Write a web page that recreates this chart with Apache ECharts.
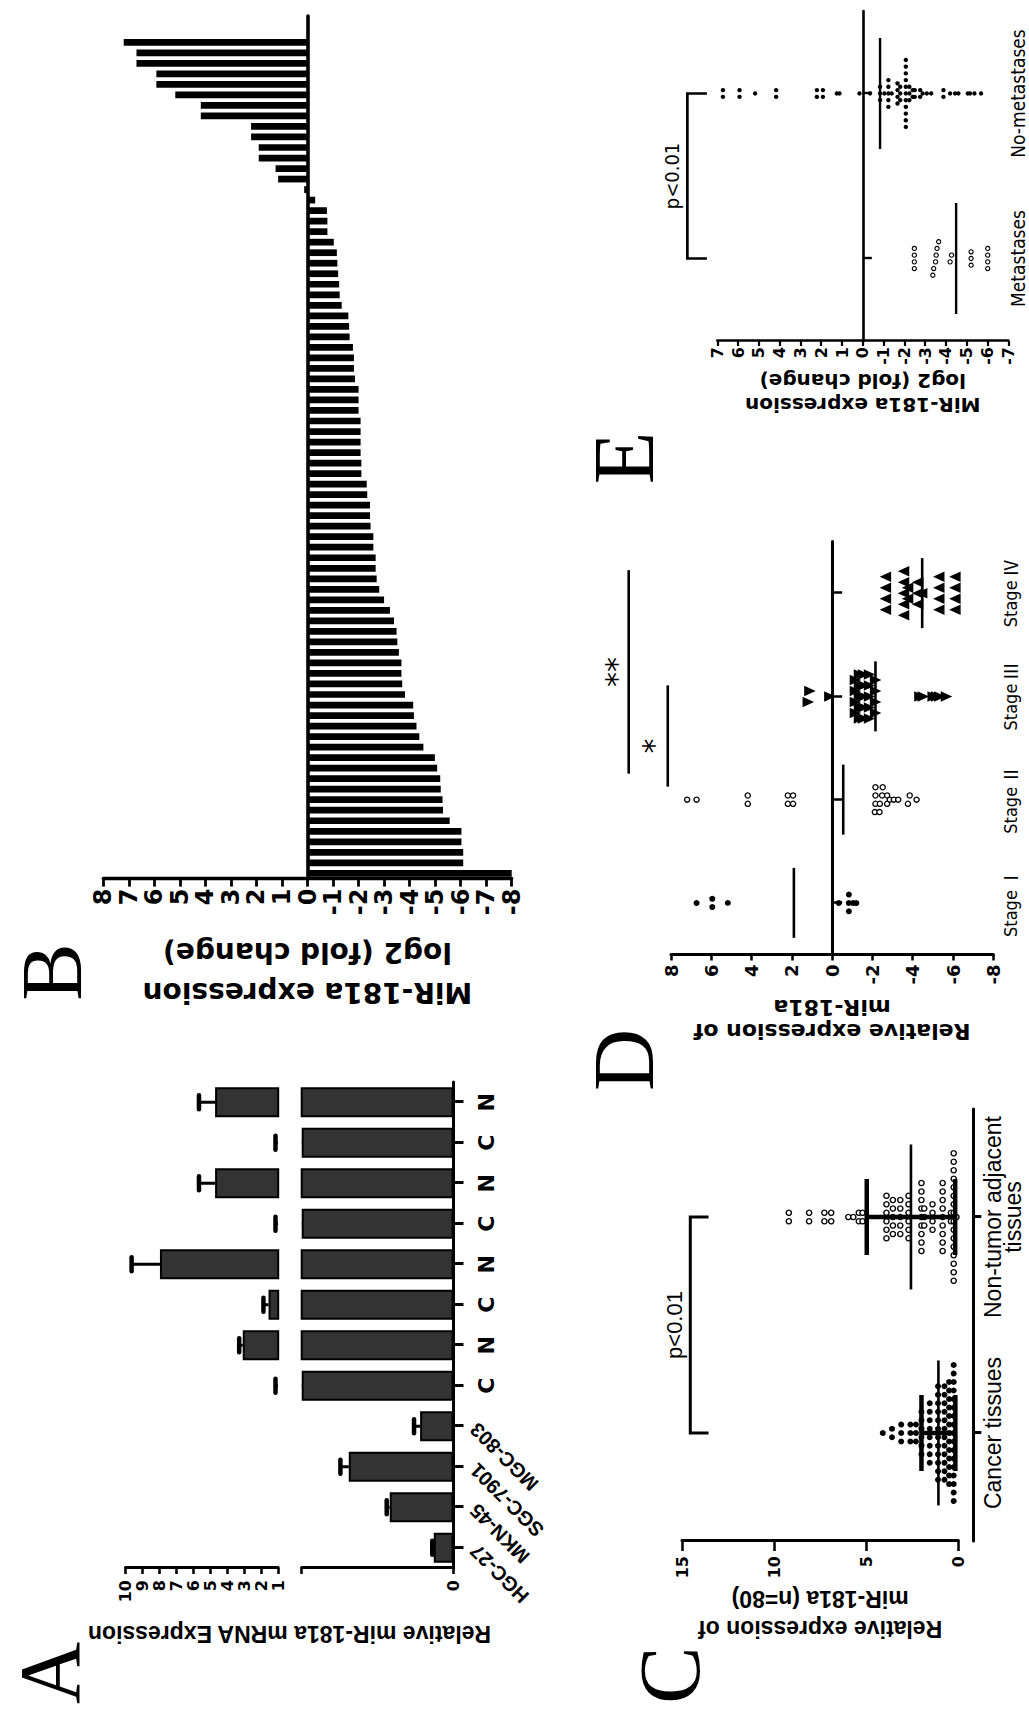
<!DOCTYPE html>
<html>
<head>
<meta charset="utf-8">
<title>miR-181a expression figure</title>
<script src="https://cdn.jsdelivr.net/npm/echarts/dist/echarts.min.js"></script>
<style>
  html, body { margin:0; padding:0; background:#fff; width:1029px; height:1717px; overflow:hidden; }
  #fig { position:absolute; left:0; top:0; width:1717px; height:1029px; background:#fff;
         transform-origin:0 0; transform:translate(0px,1717px) rotate(-90deg); }
</style>
</head>
<body>
<div id="fig"></div>
<script>
// ================= DATA =================
// Panel A
const aCategories = ['HGC-27','MKN-45','SGC-7901','MGC-803','C','N','C','N','C','N','C','N'];
const aValues = [0.13, 0.42, 0.69, 0.22, 1.0, 3.09, 1.57, 7.97, 1.0, 4.72, 1.0, 4.72];
const aErrors = [0.01, 0.02, 0.055, 0.04, 0.16, 0.21, 0.30, 1.67, 0.16, 0.95, 0.16, 0.95];
const aAxisName = 'Relative miR-181a mRNA Expression';

// Panel B (80 tissue samples, sorted)
const bSamples = Array.from({length: 80}, (_, i) => 'S' + (i + 1));
const bValues = [-8.0, -6.1, -6.1, -6.03, -6.03, -5.57, -5.31, -5.29, -5.22, -5.2,
  -5.08, -4.99, -4.54, -4.38, -4.27, -4.17, -4.14, -3.82, -3.71, -3.68,
  -3.68, -3.58, -3.52, -3.49, -3.39, -3.23, -3.0, -2.81, -2.71, -2.67,
  -2.67, -2.58, -2.58, -2.47, -2.45, -2.45, -2.34, -2.32, -2.11, -2.11,
  -2.08, -2.08, -2.08, -2.08, -2.0, -2.0, -2.0, -1.86, -1.82, -1.82,
  -1.78, -1.65, -1.63, -1.6, -1.34, -1.26, -1.24, -1.2, -1.17, -1.15,
  -1.03, -0.78, -0.78, -0.76, -0.3, 0.13, 1.15, 1.25, 1.91, 1.91,
  2.21, 2.21, 4.18, 4.18, 5.18, 5.92, 5.92, 6.7, 6.7, 7.2];
const bAxisName = 'MiR-181a expression\nlog2 (fold change)';

// Panel C
const cCategories = ['Cancer tissues', 'Non-tumor adjacent\ntissues'];
const cCancer = [4.1, 3.6, 3.6, 3.1, 3.1, 3.1, 2.6, 2.6, 2.6, 2.3, 2.3, 2.3,
  2.0, 2.0, 2.0, 2.0, 2.0, 2.0,
  1.55, 1.55, 1.55, 1.55, 1.55, 1.55, 1.55, 1.55,
  1.1, 1.1, 1.1, 1.1, 1.1, 1.1, 1.1, 1.1, 1.1, 1.1, 1.1, 1.1,
  0.75, 0.75, 0.75, 0.75, 0.75, 0.75, 0.75, 0.75, 0.75, 0.75, 0.75, 0.75,
  0.5, 0.5, 0.5, 0.5, 0.5, 0.5, 0.5, 0.5, 0.5, 0.5, 0.5, 0.5, 0.5,
  0.25, 0.25, 0.25, 0.25, 0.25, 0.25, 0.25, 0.25, 0.25, 0.25, 0.25, 0.25, 0.25, 0.25, 0.25, 0.25, 0.25];
const cNonTumor = [9.2, 9.2, 8.1, 8.1, 7.27, 7.27, 6.9, 6.9, 5.97, 5.7, 5.4, 5.4, 5.2, 5.2,
  3.9, 3.9, 3.9, 3.9, 3.9, 3.9, 3.55, 3.55, 3.55, 3.55, 3.55,
  3.15, 3.15, 3.15, 3.15, 3.15, 2.7, 2.7, 2.7, 2.7, 2.7, 2.7,
  2.0, 2.0, 2.0, 2.0, 2.0, 2.0, 2.0, 2.0, 2.0, 1.85, 1.85, 1.85,
  1.4, 1.4, 1.4, 1.4, 0.85, 0.85, 0.85, 0.85, 0.85, 0.85, 0.85, 0.85, 0.85,
  0.4, 0.4, 0.25, 0.25, 0.25, 0.25, 0.25, 0.25, 0.25, 0.25, 0.25, 0.25, 0.25, 0.25, 0.25, 0.25, 0.25, 0.25, 0.1];
const cMean = [1.08, 2.57];
const cSdLow = [0.16, 0.17];
const cSdHigh = [2.0, 4.97];
const cBracket = [14.55, 13.56];
const cPText = 'p<0.01';
const cAxisName = 'Relative expression of\nmiR-181a (n=80)';

// Panel D
const dCategories = ['Stage Ⅰ', 'Stage Ⅱ', 'Stage Ⅲ', 'Stage Ⅳ'];
const dStage1 = [6.73, 5.95, 5.95, 5.18, -0.33, -0.83, -0.83, -0.83, -1.04, -1.2];
const dStage2 = [7.2, 6.73, 4.19, 4.19, 2.2, 2.2, 1.94, 1.94, -2.12, -2.15, -2.15, -2.15,
  -2.35, -2.37, -2.48, -2.51, -2.73, -2.73, -2.86, -3.06, -3.28, -3.76, -3.85, -4.19];
const dStage3 = [1.24, 1.16, 0.17, -1.1, -1.1, -1.1, -1.1, -1.3, -1.3, -1.3, -1.3, -1.3,
  -1.5, -1.5, -1.5, -1.5, -1.5, -1.8, -1.8, -1.8, -1.8, -1.8, -2.1, -2.1, -2.1, -2.1,
  -4.3, -4.47, -4.96, -5.13, -5.29, -5.62];
const dStage4 = [-2.7, -2.7, -2.7, -2.7, -3.6, -3.6, -3.6, -3.6, -3.6, -3.8, -3.8,
  -4.3, -4.3, -4.3, -4.5, -5.35, -5.35, -5.35, -5.35, -6.15, -6.15, -6.15, -6.15];
const dMeans = [1.9, -0.55, -2.15, -4.47];
const dSigFrom = [1, 1];
const dSigTo = [2, 3];
const dSigValue = [8.16, 10.1];
const dSigLabel = ['*', '**'];
const dAxisName = 'Relative expression of\nmiR-181a';

// Panel E
const eCategories = ['Metastases', 'No-metastases'];
const eMet = [-2.48, -2.48, -2.48, -2.48, -3.37, -3.41, -3.5, -3.53, -3.57, -3.65,
  -4.2, -4.27, -5.21, -5.21, -5.21, -6.01, -6.01, -6.01, -6.01];
const eNoMet = [6.73, 6.73, 5.93, 5.93, 5.18, 4.17, 4.17, 2.21, 2.21, 1.92, 1.92, 1.25, 1.12, 0.16, -0.35,
  -0.83, -0.83, -0.83, -1.04, -1.23, -1.23, -1.23, -1.23, -1.23, -1.39,
  -1.67, -1.67, -1.67, -1.67, -1.8, -1.8, -1.8,
  -2.07, -2.07, -2.07, -2.07, -2.07, -2.07, -2.07, -2.07, -2.07, -2.07, -2.07,
  -2.24, -2.24, -2.24, -2.4, -2.4, -2.5, -2.5, -2.76, -2.76, -2.88, -3.08, -3.29,
  -3.88, -3.88, -4.2, -4.44, -4.6, -5.05, -5.16, -5.37, -5.69];
const eMeans = [-4.49, -0.83];
const eBracket = [8.44, 7.5];
const ePText = 'p<0.01';
const eAxisName = 'MiR-181a expression\nlog2 (fold change)';

const panelLetters = ['A', 'B', 'C', 'D', 'E'];

// ================= STYLE / LAYOUT =================
const BLACK = '#000';
const F_WIDE = '"DejaVu Sans", Verdana, sans-serif';
const F_ARIAL = '"Liberation Sans", Arial, Helvetica, sans-serif';
const F_NARROW = '"Liberation Sans Narrow", "Arial Narrow", "DejaVu Sans Condensed", "Roboto Condensed", sans-serif';
const F_SERIF = '"Liberation Serif", "Times New Roman", serif';
const letterPos = [[44, 50], [745, 52], [42, 670], [657, 624], [1259, 624]];
const letterSize = 86;
const dSigOffsets = [[13, 11], [26, 23]];
const dSigTextShift = [[-10, -2], [0, 0]];

function swarmOffsets(values, step, tol) {
  const order = values.map((v, i) => i).sort((a, b) => values[b] - values[a]);
  const off = new Array(values.length).fill(0);
  let group = [];
  const flush = () => {
    const n = group.length;
    group.forEach((id, j) => { off[id] = (j - (n - 1) / 2) * step; });
    group = [];
  };
  order.forEach(id => {
    if (group.length && Math.abs(values[group[group.length - 1]] - values[id]) > tol) flush();
    group.push(id);
  });
  flush();
  return off;
}

function mark(kind, x, y, s) {
  if (kind === 'dot') return {type: 'circle', shape: {cx: x, cy: y, r: s.r}, style: {fill: BLACK, stroke: null}};
  if (kind === 'ring') return {type: 'circle', shape: {cx: x, cy: y, r: s.r}, style: {fill: '#fff', stroke: BLACK, lineWidth: s.lw}};
  const h = s.h, w = s.w;
  if (kind === 'triUp') return {type: 'polygon', shape: {points: [[x, y - h * 0.6], [x - w / 2, y + h * 0.4], [x + w / 2, y + h * 0.4]]}, style: {fill: BLACK, stroke: null}};
  return {type: 'polygon', shape: {points: [[x, y + h * 0.6], [x - w / 2, y - h * 0.4], [x + w / 2, y - h * 0.4]]}, style: {fill: BLACK, stroke: null}};
}

function swarmSeries(xi, yi, cat, values, kind, s, step, tol) {
  const off = swarmOffsets(values, step, tol);
  return {
    type: 'custom', xAxisIndex: xi, yAxisIndex: yi, z: 3, silent: true,
    data: values.map((v, k) => [cat, v, off[k]]),
    renderItem: (params, api) => {
      const p = api.coord([api.value(0), api.value(1)]);
      return mark(kind, p[0] + api.value(2), p[1], s);
    }
  };
}

function meanSeries(xi, yi, means, halfW, lw) {
  return {
    type: 'custom', xAxisIndex: xi, yAxisIndex: yi, z: 4, silent: true,
    data: means.map((m, i) => [i, m]),
    renderItem: (params, api) => {
      const p = api.coord([api.value(0), api.value(1)]);
      return {type: 'line', shape: {x1: p[0] - halfW, y1: p[1], x2: p[0] + halfW, y2: p[1]}, style: {stroke: BLACK, lineWidth: lw}};
    }
  };
}

function bracketSeries(xi, yi, top, leg, text, font, lw) {
  return {
    type: 'custom', xAxisIndex: xi, yAxisIndex: yi, z: 4, silent: true,
    data: [[0, top, 1, leg]],
    renderItem: (params, api) => {
      const a = api.coord([api.value(0), api.value(1)]);
      const b = api.coord([api.value(2), api.value(1)]);
      const l = api.coord([api.value(0), api.value(3)]);
      return {type: 'group', children: [
        {type: 'polyline', shape: {points: [[a[0], l[1]], [a[0], a[1]], [b[0], b[1]], [b[0], l[1]]]}, style: {stroke: BLACK, lineWidth: lw, fill: 'none'}},
        {type: 'text', x: (a[0] + b[0]) / 2, y: a[1] - 5, style: Object.assign({text: text, fill: BLACK, align: 'center', verticalAlign: 'bottom', textAlign: 'center', textVerticalAlign: 'bottom'}, font)}
      ]};
    }
  };
}

function errRender(params, api) {
  const i = api.value(0), v = api.value(1), e = api.value(2);
  const p0 = api.coord([i, v]), p1 = api.coord([i, v + e]);
  return {type: 'group', children: [
    {type: 'line', shape: {x1: p0[0], y1: p0[1], x2: p1[0], y2: p1[1]}, style: {stroke: BLACK, lineWidth: 3}},
    {type: 'line', shape: {x1: p1[0] - 7, y1: p1[1], x2: p1[0] + 7, y2: p1[1]}, style: {stroke: BLACK, lineWidth: 4.5, lineCap: 'round'}}
  ]};
}

const tickFont = (size) => ({color: BLACK, fontFamily: F_WIDE, fontWeight: 'bold', fontSize: size});
const valueAxis = (grid, min, max, interval, lw, tickLen, labelSize, margin, extra) => Object.assign({
  gridIndex: grid, type: 'value', min: min, max: max, interval: interval,
  axisLine: {show: true, onZero: false, lineStyle: {color: BLACK, width: lw}},
  axisTick: {show: true, length: tickLen, lineStyle: {color: BLACK, width: lw * 0.85}},
  axisLabel: Object.assign({margin: margin}, tickFont(labelSize)),
  splitLine: {show: false}
}, extra || {});
const axisName = (name, gap, font, size, lh) => ({
  name: name, nameLocation: 'middle', nameGap: gap, nameRotate: 90, nameMoveOverlap: false,
  nameTextStyle: {color: BLACK, fontFamily: font, fontWeight: 'bold', fontSize: size, lineHeight: lh, align: 'center'}
});

// ================= CHART =================
const chart = echarts.init(document.getElementById('fig'), null, {renderer: 'svg', width: 1717, height: 1029});

const option = {
  animation: false,
  backgroundColor: '#fff',
  textStyle: {fontFamily: F_ARIAL, color: BLACK},
  grid: [
    {left: 149, top: 125.5, width: 486, height: 152.7, outerBoundsMode: 'none'},
    {left: 149, top: 301.7, width: 486, height: 151.8, outerBoundsMode: 'none'},
    {left: 149, top: 125.5, width: 486, height: 328, outerBoundsMode: 'none'},
    {left: 838.4, top: 103.3, width: 862.6, height: 408.4, outerBoundsMode: 'none'},
    {left: 176, top: 682, width: 432, height: 276.3, outerBoundsMode: 'none'},
    {left: 762.5, top: 671, width: 413, height: 322.3, outerBoundsMode: 'none'},
    {left: 1376, top: 717.3, width: 330, height: 291, outerBoundsMode: 'none'}
  ],
  xAxis: [
    {gridIndex: 0, type: 'category', data: aCategories, show: false},
    {gridIndex: 1, type: 'category', data: aCategories, position: 'bottom',
      axisLine: {show: true, onZero: false, lineStyle: {color: BLACK, width: 3}},
      axisTick: {show: true, alignWithLabel: true, interval: 0, length: 10, lineStyle: {color: BLACK, width: 3}},
      axisLabel: {interval: 0, rotate: 45, margin: 20, color: BLACK, fontFamily: F_ARIAL, fontWeight: 'bold', fontSize: 20,
        formatter: (v, i) => (i < 4 ? v : '')}},
    {gridIndex: 1, type: 'category', data: aCategories, position: 'bottom',
      axisLine: {show: false, onZero: false}, axisTick: {show: false},
      axisLabel: {interval: 0, margin: 22, color: BLACK, fontFamily: F_WIDE, fontWeight: 'bold', fontSize: 22,
        formatter: (v, i) => (i >= 4 ? v : '')}},
    {gridIndex: 2, type: 'value', show: false},
    {gridIndex: 3, type: 'category', data: bSamples, max: 81, position: 'bottom',
      axisLine: {show: true, onZero: true, lineStyle: {color: BLACK, width: 3.6}},
      axisTick: {show: false}, axisLabel: {show: false}},
    {gridIndex: 4, type: 'category', data: cCategories, position: 'bottom', offset: 15,
      axisLine: {show: true, onZero: false, lineStyle: {color: BLACK, width: 3}},
      axisTick: {show: true, alignWithLabel: true, interval: 0, length: 8, lineStyle: {color: BLACK, width: 3}},
      axisLabel: {interval: 0, margin: 10, color: BLACK, fontFamily: F_ARIAL, fontSize: 23, lineHeight: 20}},
    {gridIndex: 5, type: 'category', data: dCategories, position: 'bottom',
      axisLine: {show: false, onZero: false}, axisTick: {show: false},
      axisLabel: {interval: 0, margin: 8, color: BLACK,
        formatter: v => { const m = v.match(/^(Stage)\s*(.*)$/); return m ? '{s|' + m[1] + '} {r|' + m[2] + '}' : v; },
        rich: {s: {fontFamily: F_NARROW, fontSize: 18, color: BLACK}, r: {fontFamily: '"Noto Sans CJK SC", serif', fontSize: 18, color: BLACK}}}},
    {gridIndex: 5, type: 'category', data: dCategories, position: 'bottom',
      axisLine: {show: true, onZero: true, lineStyle: {color: BLACK, width: 3}},
      axisTick: {show: true, alignWithLabel: true, interval: 0, length: 10, lineStyle: {color: BLACK, width: 2.5}},
      axisLabel: {show: false}},
    {gridIndex: 6, type: 'category', data: eCategories, position: 'bottom',
      axisLine: {show: false, onZero: false}, axisTick: {show: false},
      axisLabel: {interval: 0, margin: 0, color: BLACK, fontFamily: F_NARROW, fontSize: 19}},
    {gridIndex: 6, type: 'category', data: eCategories, position: 'bottom',
      axisLine: {show: true, onZero: true, lineStyle: {color: BLACK, width: 2.6}},
      axisTick: {show: true, alignWithLabel: true, interval: 0, length: 9, lineStyle: {color: BLACK, width: 2.4}},
      axisLabel: {show: false}}
  ],
  yAxis: [
    valueAxis(0, 1, 10, 1, 3, 6, 16, 12),
    valueAxis(1, 0, 1, 1, 3, 6, 16, 12, {axisLabel: Object.assign({margin: 12, formatter: v => (v === 0 ? '0' : '')}, tickFont(16))}),
    Object.assign({gridIndex: 2, type: 'value', min: 0, max: 1, axisLine: {show: false}, axisTick: {show: false},
      axisLabel: {show: false}, splitLine: {show: false}}, axisName(aAxisName, 53, F_ARIAL, 23, 26)),
    valueAxis(3, -8, 8, 1, 3.3, 8, 24, 10, axisName(bAxisName, 54, F_WIDE, 28, 40)),
    valueAxis(4, 0, 15, 5, 3, 10, 16, 15, axisName(cAxisName, 43, F_ARIAL, 23, 30)),
    valueAxis(5, -8, 8, 2, 3, 6, 18, 10, axisName(dAxisName, 41, F_WIDE, 22, 24)),
    valueAxis(6, -7, 7, 1, 2.6, 5, 16, 6, axisName(eAxisName, 28, F_WIDE, 20, 24))
  ],
  series: [
    // Panel A (broken axis: upper 1-10, lower 0-1)
    {type: 'bar', xAxisIndex: 0, yAxisIndex: 0, data: aValues, barWidth: 30, clip: true, silent: true,
      itemStyle: {color: '#333', borderColor: BLACK, borderWidth: 2}},
    {type: 'bar', xAxisIndex: 1, yAxisIndex: 1, data: aValues, barWidth: 30, clip: true, silent: true,
      itemStyle: {color: '#333', borderColor: BLACK, borderWidth: 2}},
    {type: 'custom', xAxisIndex: 0, yAxisIndex: 0, clip: true, z: 4, silent: true,
      data: aValues.map((v, i) => [i, v, aErrors[i]]), renderItem: errRender},
    {type: 'custom', xAxisIndex: 1, yAxisIndex: 1, clip: true, z: 4, silent: true,
      data: aValues.map((v, i) => [i, v, aErrors[i]]), renderItem: errRender},
    // Panel B
    {type: 'bar', xAxisIndex: 4, yAxisIndex: 3, data: bValues, barWidth: '64%', silent: true,
      itemStyle: {color: BLACK}},
    // Panel C
    swarmSeries(5, 4, 0, cCancer, 'dot', {r: 3}, 8.5, 0.1),
    swarmSeries(5, 4, 1, cNonTumor, 'ring', {r: 2.6, lw: 1.4}, 8.5, 0.1),
    {type: 'custom', xAxisIndex: 5, yAxisIndex: 4, z: 5, silent: true,
      data: cMean.map((m, i) => [i, m, cSdLow[i], cSdHigh[i]]),
      renderItem: (params, api) => {
        const i = api.value(0);
        const pm = api.coord([i, api.value(1)]), pl = api.coord([i, api.value(2)]), ph = api.coord([i, api.value(3)]);
        return {type: 'group', children: [
          {type: 'line', shape: {x1: pm[0] - 72.5, y1: pm[1], x2: pm[0] + 72.5, y2: pm[1]}, style: {stroke: BLACK, lineWidth: 2.6}},
          {type: 'line', shape: {x1: pl[0], y1: pl[1], x2: ph[0], y2: ph[1]}, style: {stroke: BLACK, lineWidth: 4.5}},
          {type: 'line', shape: {x1: ph[0] - 38, y1: ph[1], x2: ph[0] + 38, y2: ph[1]}, style: {stroke: BLACK, lineWidth: 4.5}},
          {type: 'line', shape: {x1: pl[0] - 38, y1: pl[1], x2: pl[0] + 38, y2: pl[1]}, style: {stroke: BLACK, lineWidth: 4.5}}
        ]};
      }},
    bracketSeries(5, 4, cBracket[0], cBracket[1], cPText, {fontFamily: F_ARIAL, fontSize: 22}, 3),
    // Panel D
    swarmSeries(7, 5, 0, dStage1, 'dot', {r: 3}, 8.3, 0.12),
    swarmSeries(7, 5, 1, dStage2, 'ring', {r: 2.6, lw: 1.3}, 8.3, 0.12),
    swarmSeries(7, 5, 2, dStage3, 'triDown', {w: 10.5, h: 11.5}, 11, 0.12),
    swarmSeries(7, 5, 3, dStage4, 'triUp', {w: 10.5, h: 11.5}, 11, 0.12),
    meanSeries(7, 5, dMeans, 35, 2.6),
    {type: 'custom', xAxisIndex: 7, yAxisIndex: 5, z: 5, silent: true,
      data: dSigValue.map((v, k) => [dSigFrom[k], v, dSigTo[k], k]),
      renderItem: (params, api) => {
        const k = api.value(3);
        const a = api.coord([api.value(0), api.value(1)]);
        const b = api.coord([api.value(2), api.value(1)]);
        const x1 = a[0] + dSigOffsets[k][0], x2 = b[0] + dSigOffsets[k][1];
        return {type: 'group', children: [
          {type: 'line', shape: {x1: x1, y1: a[1], x2: x2, y2: a[1]}, style: {stroke: BLACK, lineWidth: 2.6}},
          {type: 'text', x: (x1 + x2) / 2 + dSigTextShift[k][0], y: a[1] - 12 + dSigTextShift[k][1],
            style: {text: dSigLabel[k], fill: BLACK, fontFamily: F_WIDE, fontSize: 30,
              align: 'center', verticalAlign: 'middle', textAlign: 'center', textVerticalAlign: 'middle'}}
        ]};
      }},
    // Panel E
    swarmSeries(9, 6, 0, eMet, 'ring', {r: 2.1, lw: 1.1}, 6.7, 0.095),
    swarmSeries(9, 6, 1, eNoMet, 'dot', {r: 2.2}, 6.7, 0.095),
    meanSeries(9, 6, eMeans, 55.5, 2.4),
    bracketSeries(9, 6, eBracket[0], eBracket[1], ePText, {fontFamily: F_NARROW, fontSize: 20}, 2.7)
  ],
  graphic: panelLetters.map((t, k) => ({
    type: 'text', x: letterPos[k][0], y: letterPos[k][1], silent: true,
    style: {text: t, fill: BLACK, fontFamily: F_SERIF, fontSize: letterSize, align: 'center', verticalAlign: 'middle',
      textAlign: 'center', textVerticalAlign: 'middle'}
  }))
};
chart.setOption(option);
</script>
</body>
</html>
